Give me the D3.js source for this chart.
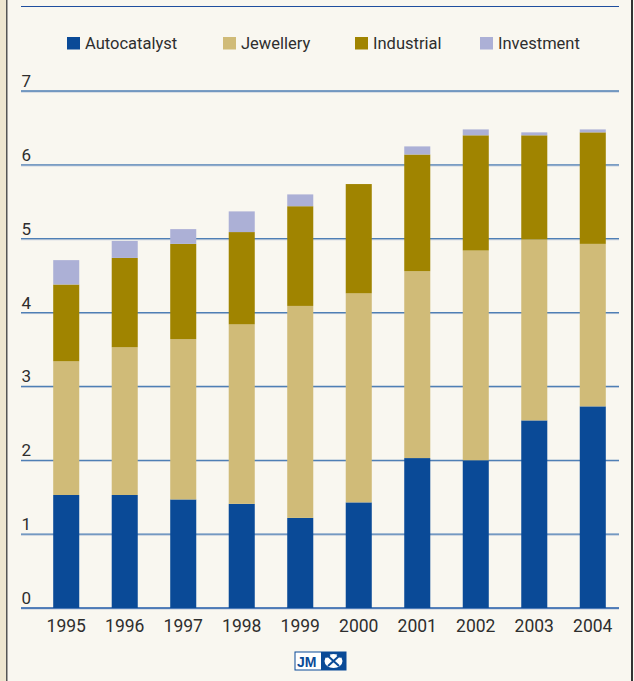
<!DOCTYPE html>
<html>
<head>
<meta charset="utf-8">
<script src="https://cdn.jsdelivr.net/npm/d3@7"></script>
<style>
  body { margin: 0; background: #f9f7f0; }
  svg { display: block; }
</style>
</head>
<body>
<script>
var years = ['1995', '1996', '1997', '1998', '1999', '2000', '2001', '2002', '2003', '2004'];
var autocatalyst = [1.53, 1.53, 1.47, 1.41, 1.22, 1.43, 2.03, 2.00, 2.54, 2.73];
var jewellery = [1.81, 2.00, 2.17, 2.43, 2.87, 2.83, 2.53, 2.84, 2.45, 2.20];
var industrial = [1.04, 1.21, 1.29, 1.25, 1.35, 1.48, 1.58, 1.56, 1.41, 1.51];
var investment = [0.33, 0.23, 0.20, 0.28, 0.16, 0.00, 0.11, 0.08, 0.04, 0.04];
var seriesNames = ['Autocatalyst', 'Jewellery', 'Industrial', 'Investment'];
var seriesColors = ['#0a4a97', '#d0bb78', '#a08400', '#acb0d6'];
var yTicks = [0, 1, 2, 3, 4, 5, 6, 7];

var width = 634, height = 681;
var left = 21, right = 619;
var font = 'Roboto, Liberation Sans, Arial, sans-serif';

var svg = d3.select('body').append('svg')
  .attr('width', width)
  .attr('height', height);

// page frame
svg.append('rect').attr('width', width).attr('height', height).attr('fill', '#f9f7f0');
svg.append('rect').attr('x', 0).attr('y', 0).attr('width', 6).attr('height', height).attr('fill', '#eee6d0');
svg.append('rect').attr('x', 6).attr('y', 0).attr('width', 1.5).attr('height', height).attr('fill', '#555');
svg.append('rect').attr('x', 631).attr('y', 0).attr('width', 2).attr('height', height).attr('fill', '#333');

// top rule
svg.append('line')
  .attr('x1', left).attr('x2', right).attr('y1', 6.5).attr('y2', 6.5)
  .attr('stroke', '#1f4e9e').attr('stroke-width', 1.2);

var table = years.map(function (y, i) {
  return { year: y, Autocatalyst: autocatalyst[i], Jewellery: jewellery[i], Industrial: industrial[i], Investment: investment[i] };
});

var x = d3.scaleBand().domain(years).range([37, 622]).paddingInner(0.555).paddingOuter(0.277);
var y = d3.scaleLinear().domain([0, 7]).range([608, 91]);

// gridlines
var grid = svg.append('g');
grid.selectAll('line.shadow').data(yTicks).enter().append('line')
  .attr('class', 'shadow')
  .attr('x1', left).attr('x2', right)
  .attr('y1', function (d) { return y(d) + 1; }).attr('y2', function (d) { return y(d) + 1; })
  .attr('stroke', '#b9c6d8').attr('stroke-width', 1);
grid.selectAll('line.main').data(yTicks).enter().append('line')
  .attr('class', 'main')
  .attr('x1', left).attr('x2', right)
  .attr('y1', function (d) { return y(d); }).attr('y2', function (d) { return y(d); })
  .attr('stroke', function (d) { return d === 0 ? '#1f5aa8' : '#4f7fb5'; })
  .attr('stroke-width', 1.3);

grid.selectAll('text').data(yTicks).enter().append('text')
  .attr('x', left + 0.5)
  .attr('y', function (d) { return y(d) - 4; })
  .attr('font-family', font)
  .attr('font-size', 17)
  .attr('fill', '#2e2e2e')
  .text(function (d) { return d; });

// stacked bars
var stack = d3.stack().keys(seriesNames)(table);
svg.append('g').selectAll('g').data(stack).enter().append('g')
  .attr('fill', function (d, i) { return seriesColors[i]; })
  .selectAll('rect').data(function (d) { return d; }).enter().append('rect')
  .attr('x', function (d) { return x(d.data.year); })
  .attr('width', x.bandwidth())
  .attr('y', function (d) { return y(d[1]); })
  .attr('height', function (d) { return y(d[0]) - y(d[1]); });

// year labels
svg.append('g').selectAll('text').data(years).enter().append('text')
  .attr('x', function (d) { return x(d) + x.bandwidth() / 2; })
  .attr('y', 632)
  .attr('text-anchor', 'middle')
  .attr('font-family', font)
  .attr('font-size', 17.5)
  .attr('fill', '#2e2e2e')
  .text(function (d) { return d; });

// legend
var legendX = [67, 223, 355, 480];
var legend = svg.append('g').selectAll('g').data(seriesNames).enter().append('g')
  .attr('transform', function (d, i) { return 'translate(' + legendX[i] + ',37)'; });
legend.append('rect').attr('width', 13).attr('height', 12.5)
  .attr('fill', function (d, i) { return seriesColors[i]; });
legend.append('text')
  .attr('x', 18).attr('y', 12)
  .attr('font-family', font)
  .attr('font-size', 16.5)
  .attr('fill', '#2e2e2e')
  .text(function (d) { return d; });

// JM logo
var logo = svg.append('g').attr('transform', 'translate(295,652)');
logo.append('rect').attr('width', 51).attr('height', 18).attr('fill', '#fff').attr('stroke', '#0a4a97').attr('stroke-width', 1);
logo.append('text').attr('x', 2).attr('y', 14.5)
  .attr('font-family', 'Liberation Sans, Arial, sans-serif').attr('font-weight', 'bold')
  .attr('font-size', 14).attr('fill', '#0a4a97').text('JM');
logo.append('rect').attr('x', 26).attr('width', 25).attr('height', 18).attr('fill', '#0a4a97');
logo.append('ellipse').attr('cx', 38.5).attr('cy', 9).attr('rx', 9).attr('ry', 7).attr('fill', '#fff');
logo.append('path').attr('d', 'M33,4 L44,14 M44,4 L33,14 M31,5 L35,3 M42,3 L46,5')
  .attr('stroke', '#0a4a97').attr('stroke-width', 2).attr('fill', 'none');
</script>
</body>
</html>
